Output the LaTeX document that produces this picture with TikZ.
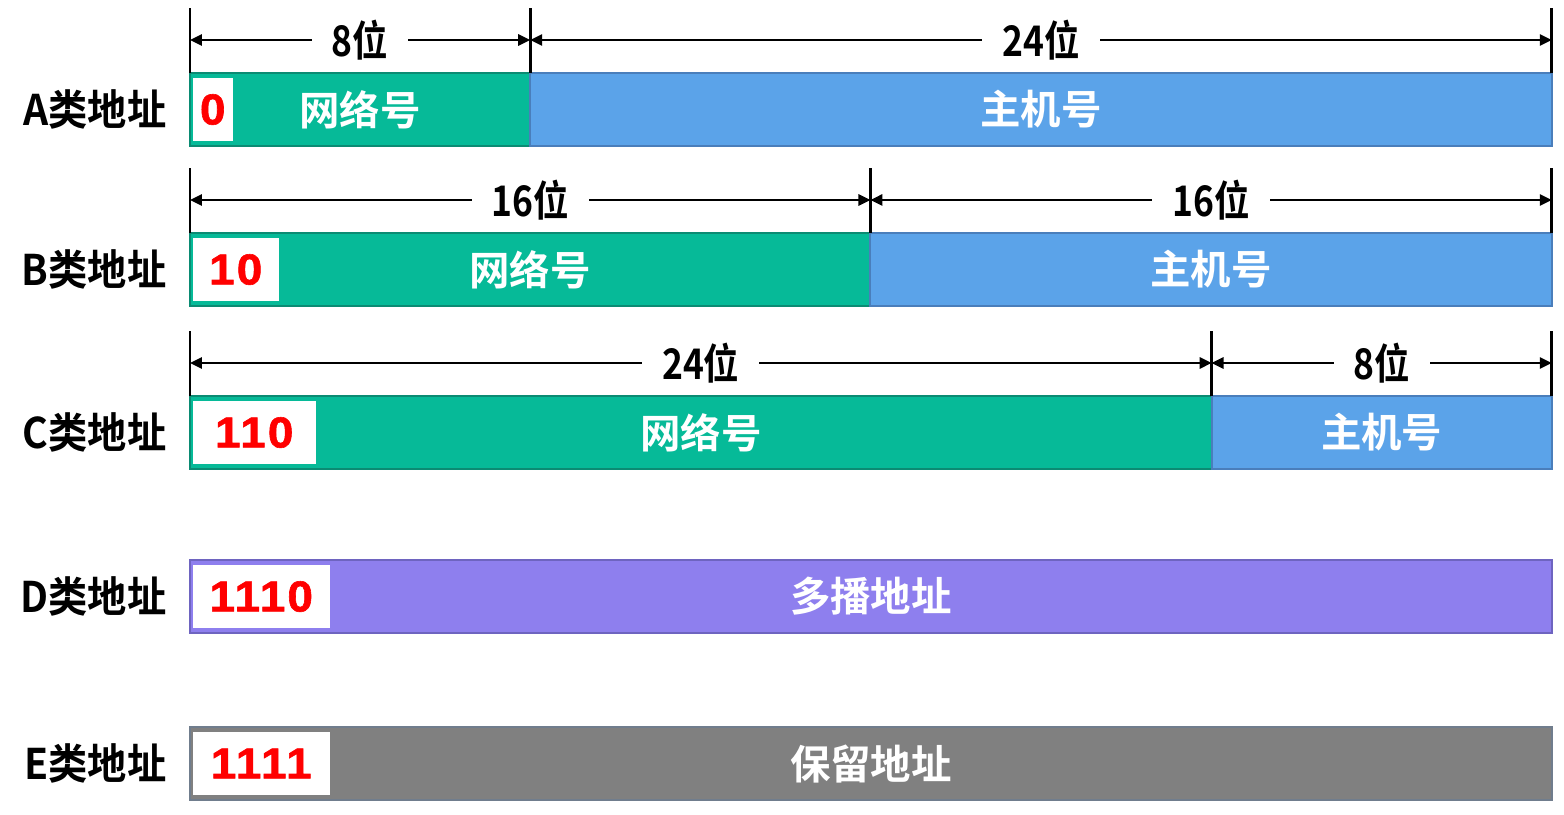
\documentclass[tikz,border=0pt]{standalone}
\usepackage{fontspec}
\setmainfont{Liberation Sans}
\newfontfamily\cjk{Noto Sans CJK SC Bold}
\newfontfamily\cjklabel{Noto Sans CJK SC Bold}[FakeStretch=0.93]
\newfontfamily\cjknarrow{Noto Sans CJK SC Bold}[FakeStretch=0.84]
\newfontfamily\bitsfont{Liberation Sans Bold}[FakeStretch=1.06, FakeBold=1.4, LetterSpace=5]
\usetikzlibrary{arrows.meta, positioning}
\definecolor{ipNet}{HTML}{06BA98}
\definecolor{ipNetLine}{HTML}{0B8B73}
\definecolor{ipHost}{HTML}{5BA3E9}
\definecolor{ipHostLine}{HTML}{4A7EBB}
\definecolor{ipMulti}{HTML}{8E7FEE}
\definecolor{ipMultiLine}{HTML}{6E64C0}
\definecolor{ipRsv}{HTML}{808080}
\definecolor{ipRsvLine}{HTML}{707D8D}
\definecolor{ipBits}{HTML}{FF0000}
\tikzset{
  field/.style={
    draw, line width=0.6pt, minimum height=0.73cm, inner sep=0pt, outer sep=0pt,
    text=white, font=\cjk\fontsize{11.5}{14}\selectfont
  },
  netfield/.style={field, fill=ipNet, draw=ipNetLine},
  hostfield/.style={field, fill=ipHost, draw=ipHostLine},
  multifield/.style={field, fill=ipMulti, draw=ipMultiLine},
  rsvfield/.style={field, fill=ipRsv, draw=ipRsvLine},
  bitbox/.style={
    fill=white, minimum height=0.63cm, inner sep=0pt, anchor=west,
    text=ipBits, font=\bitsfont\fontsize{12.3}{14}\selectfont
  },
  classlabel/.style={font=\cjklabel\fontsize{12}{14}\selectfont, inner sep=0pt},
  tickline/.style={line width=0.8pt, black},
  dimline/.style={{Triangle[length=3.4pt, width=3.2pt]}-{Triangle[length=3.4pt, width=3.2pt]}, line width=0.6pt, black},
  dimlabel/.style={fill=white, inner xsep=0.2cm, inner ysep=1pt, font=\cjknarrow\fontsize{12}{14}\selectfont}
}
\begin{document}
\begin{tikzpicture}[x=0.01cm, y=-0.01cm]
  \useasboundingbox (0,0) rectangle (1564,814);

  % A class
  \node[netfield, minimum width=3.40cm, anchor=north west] (aNet) at (190,73) {网络号};
  \node[hostfield, minimum width=10.21cm, right=0pt of aNet] (aHost) {主机号};
  \node[bitbox, minimum width=0.40cm] (aBits) at ([xshift=0.02cm]aNet.west) {0};
  \node[classlabel, left=0.23cm of aNet] (aLabel) {A类地址};
  \draw[tickline] (aNet.north west) -- ++(0,-65);
  \draw[tickline] (aNet.north east) -- ++(0,-65);
  \draw[tickline] (aHost.north east) -- ++(0,-65);
  \draw[dimline] ([yshift=0.33cm]aNet.north west) -- ([yshift=0.33cm]aNet.north east)
    node[dimlabel, midway] {8位};
  \draw[dimline] ([yshift=0.33cm]aHost.north west) -- ([yshift=0.33cm]aHost.north east)
    node[dimlabel, midway] {24位};

  % B class
  \node[netfield, minimum width=6.80cm, anchor=north west] (bNet) at (190,233) {网络号};
  \node[hostfield, minimum width=6.81cm, right=0pt of bNet] (bHost) {主机号};
  \node[bitbox, minimum width=0.86cm] (bBits) at ([xshift=0.02cm]bNet.west) {10};
  \node[classlabel, left=0.23cm of bNet] (bLabel) {B类地址};
  \draw[tickline] (bNet.north west) -- ++(0,-65);
  \draw[tickline] (bNet.north east) -- ++(0,-65);
  \draw[tickline] (bHost.north east) -- ++(0,-65);
  \draw[dimline] ([yshift=0.33cm]bNet.north west) -- ([yshift=0.33cm]bNet.north east)
    node[dimlabel, midway] {16位};
  \draw[dimline] ([yshift=0.33cm]bHost.north west) -- ([yshift=0.33cm]bHost.north east)
    node[dimlabel, midway] {16位};

  % C class
  \node[netfield, minimum width=10.21cm, anchor=north west] (cNet) at (190,396) {网络号};
  \node[hostfield, minimum width=3.40cm, right=0pt of cNet] (cHost) {主机号};
  \node[bitbox, minimum width=1.23cm] (cBits) at ([xshift=0.02cm]cNet.west) {110};
  \node[classlabel, left=0.23cm of cNet] (cLabel) {C类地址};
  \draw[tickline] (cNet.north west) -- ++(0,-65);
  \draw[tickline] (cNet.north east) -- ++(0,-65);
  \draw[tickline] (cHost.north east) -- ++(0,-65);
  \draw[dimline] ([yshift=0.33cm]cNet.north west) -- ([yshift=0.33cm]cNet.north east)
    node[dimlabel, midway] {24位};
  \draw[dimline] ([yshift=0.33cm]cHost.north west) -- ([yshift=0.33cm]cHost.north east)
    node[dimlabel, midway] {8位};

  % D class
  \node[multifield, minimum width=13.61cm, anchor=north west] (dAll) at (190,560) {多播地址};
  \node[bitbox, minimum width=1.37cm] (dBits) at ([xshift=0.02cm]dAll.west) {1110};
  \node[classlabel, left=0.23cm of dAll] (dLabel) {D类地址};

  % E class
  \node[rsvfield, minimum width=13.61cm, anchor=north west] (eAll) at (190,727) {保留地址};
  \node[bitbox, minimum width=1.37cm] (eBits) at ([xshift=0.02cm]eAll.west) {1111};
  \node[classlabel, left=0.23cm of eAll] (eLabel) {E类地址};
\end{tikzpicture}
\end{document}
